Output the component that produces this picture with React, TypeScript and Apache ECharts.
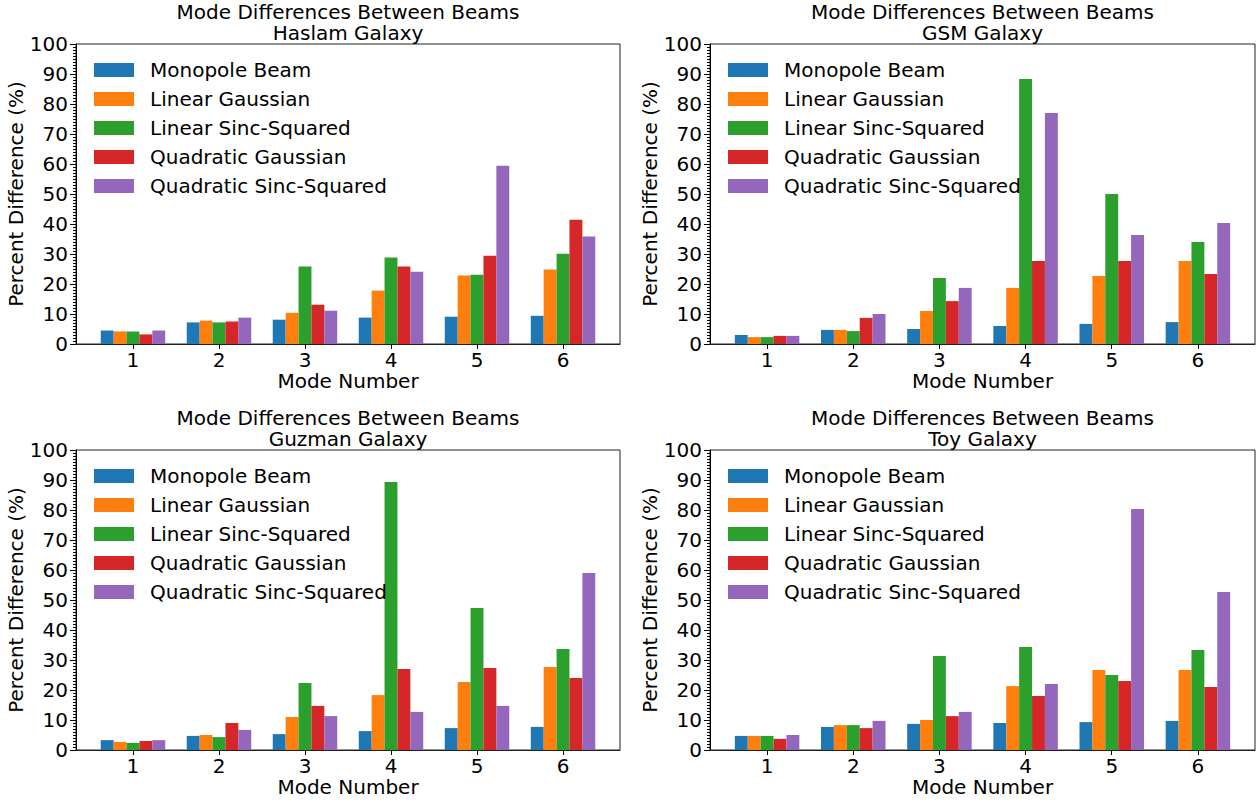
import React, { useEffect, useRef } from "react";
import * as echarts from "echarts";

const FONT = "DejaVu Sans";

const modes = [1, 2, 3, 4, 5, 6];
const yTicks = [0, 10, 20, 30, 40, 50, 60, 70, 80, 90, 100];
const seriesNames = [
  "Monopole Beam",
  "Linear Gaussian",
  "Linear Sinc-Squared",
  "Quadratic Gaussian",
  "Quadratic Sinc-Squared",
];
const colors = ["#1f77b4", "#ff7f0e", "#2ca02c", "#d62728", "#9467bd"];
const galaxies = ["Haslam Galaxy", "GSM Galaxy", "Guzman Galaxy", "Toy Galaxy"];
const mainTitle = "Mode Differences Between Beams";
const xName = "Mode Number";
const yName = "Percent Difference (%)";

// Haslam
const haslamMonopole = [4.5, 7.2, 8.1, 8.8, 9.1, 9.4];
const haslamLinGauss = [4.2, 7.8, 10.4, 17.8, 22.8, 24.8];
const haslamLinSinc = [4.2, 7.2, 25.8, 28.8, 23.1, 30.1];
const haslamQuadGauss = [3.2, 7.5, 13.1, 25.8, 29.4, 41.4];
const haslamQuadSinc = [4.5, 8.8, 11.1, 24.1, 59.4, 35.8];

// GSM
const gsmMonopole = [3.0, 4.7, 5.0, 6.0, 6.7, 7.3];
const gsmLinGauss = [2.3, 4.7, 11.0, 18.7, 22.7, 27.7];
const gsmLinSinc = [2.3, 4.3, 22.0, 88.3, 50.0, 34.0];
const gsmQuadGauss = [2.7, 8.7, 14.3, 27.7, 27.7, 23.3];
const gsmQuadSinc = [2.7, 10.0, 18.7, 77.0, 36.3, 40.3];

// Guzman
const guzmanMonopole = [3.3, 4.7, 5.3, 6.3, 7.3, 7.7];
const guzmanLinGauss = [2.7, 5.0, 11.0, 18.3, 22.7, 27.7];
const guzmanLinSinc = [2.3, 4.3, 22.3, 89.3, 47.3, 33.7];
const guzmanQuadGauss = [3.0, 9.0, 14.7, 27.0, 27.3, 24.0];
const guzmanQuadSinc = [3.3, 6.7, 11.3, 12.7, 14.7, 59.0];

// Toy
const toyMonopole = [4.7, 7.7, 8.7, 9.0, 9.3, 9.7];
const toyLinGauss = [4.7, 8.3, 10.0, 21.3, 26.7, 26.7];
const toyLinSinc = [4.7, 8.3, 31.3, 34.3, 25.0, 33.3];
const toyQuadGauss = [3.7, 7.3, 11.3, 18.0, 23.0, 21.0];
const toyQuadSinc = [5.0, 9.7, 12.7, 22.0, 80.3, 52.7];

const panelData = [
  [haslamMonopole, haslamLinGauss, haslamLinSinc, haslamQuadGauss, haslamQuadSinc],
  [gsmMonopole, gsmLinGauss, gsmLinSinc, gsmQuadGauss, gsmQuadSinc],
  [guzmanMonopole, guzmanLinGauss, guzmanLinSinc, guzmanQuadGauss, guzmanQuadSinc],
  [toyMonopole, toyLinGauss, toyLinSinc, toyQuadGauss, toyQuadSinc],
];

const panels = [
  { left: 76, top: 44, width: 544, height: 300 },
  { left: 710, top: 44, width: 545, height: 300 },
  { left: 76, top: 450, width: 544, height: 300 },
  { left: 710, top: 450, width: 545, height: 300 },
];

export default function App() {
  const ref = useRef<HTMLDivElement>(null);
  useEffect(() => {
    if (!ref.current) return;
    const chart = echarts.init(ref.current, null, { renderer: "svg" });
    const textBase = { fontFamily: FONT, fontSize: 20, color: "#000" };

    const grid = panels.map((p) => ({
      left: p.left,
      top: p.top,
      width: p.width,
      height: p.height,
      show: true,
      borderColor: "#222",
      borderWidth: 1,
      containLabel: false,
    }));

    const xAxis = panels.map((_, i) => ({
      type: "value",
      gridIndex: i,
      min: 0.3375,
      max: 6.6625,
      name: xName,
      nameLocation: "middle",
      nameGap: 28,
      nameTextStyle: { ...textBase, lineHeight: 18 },
      axisLine: { show: true, lineStyle: { color: "#222", width: 1 } },
      axisTick: {
        show: true,
        length: 5,
        customValues: modes,
        lineStyle: { color: "#000" },
      },
      axisLabel: {
        ...textBase,
        lineHeight: 18,
        margin: 7,
        customValues: modes,
        formatter: (v: number) => String(v),
      },
      splitLine: { show: false },
    }));

    const yAxis = panels.map((_, i) => ({
      type: "value",
      gridIndex: i,
      min: yTicks[0],
      max: yTicks[yTicks.length - 1],
      interval: 10,
      name: yName,
      nameLocation: "middle",
      nameGap: 50,
      nameTextStyle: { ...textBase },
      axisLine: { show: true, lineStyle: { color: "#000", width: 1 } },
      axisTick: { show: true, length: 6, lineStyle: { color: "#000" } },
      minorTick: {
        show: true,
        splitNumber: 10,
        length: 3,
        lineStyle: { color: "#000" },
      },
      axisLabel: { ...textBase, margin: 8 },
      splitLine: { show: false },
      minorSplitLine: { show: false },
    }));

    const series: any[] = [];
    panelData.forEach((panel, g) => {
      panel.forEach((vals, s) => {
        series.push({
          type: "bar",
          name: seriesNames[s],
          xAxisIndex: g,
          yAxisIndex: g,
          barWidth: 12.9,
          barGap: "0%",
          itemStyle: { color: colors[s] },
          data: modes.map((m, k) => [m, vals[k]]),
        });
      });
    });

    const legend = panels.map((p) => ({
      orient: "vertical",
      left: p.left + 18,
      top: p.top + 16,
      padding: 0,
      itemWidth: 40,
      itemHeight: 14,
      itemGap: 9,
      icon: "rect",
      selectedMode: false,
      data: seriesNames,
      textStyle: { ...textBase, lineHeight: 20, padding: [0, 0, 0, 11] },
    }));

    const title: any[] = [];
    panels.forEach((p, i) => {
      title.push({
        text: mainTitle,
        left: p.left + p.width / 2,
        top: p.top - 42,
        textAlign: "center",
        padding: 0,
        textStyle: { ...textBase, fontWeight: "normal", lineHeight: 19 },
      });
      title.push({
        text: galaxies[i],
        left: p.left + p.width / 2,
        top: p.top - 21,
        textAlign: "center",
        padding: 0,
        textStyle: { ...textBase, fontWeight: "normal", lineHeight: 19 },
      });
    });

    chart.setOption({
      animation: false,
      backgroundColor: "#fff",
      textStyle: { fontFamily: FONT },
      title,
      legend,
      grid,
      xAxis,
      yAxis,
      series,
    });
    return () => chart.dispose();
  }, []);

  return (
    <div
      ref={ref}
      style={{ position: "fixed", left: 0, top: 0, width: 1260, height: 802 }}
    />
  );
}
